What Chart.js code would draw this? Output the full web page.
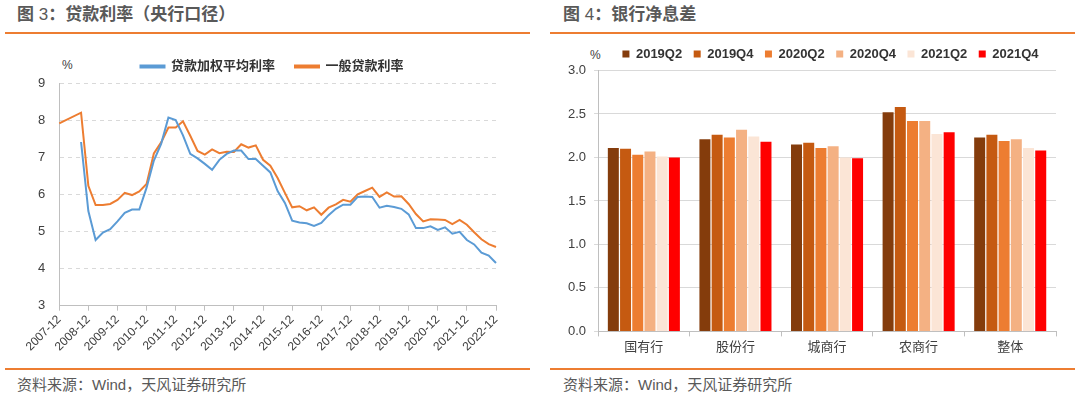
<!DOCTYPE html>
<html>
<head>
<meta charset="utf-8">
<script src="https://cdn.jsdelivr.net/npm/chart.js@4.4.0/dist/chart.umd.min.js"></script>
<style>
  body {
    margin: 0; width: 1080px; height: 398px; background: #fff;
    position: relative; overflow: hidden;
    font-family: "Liberation Sans", "Noto Sans CJK SC", sans-serif;
  }
  .title { position: absolute; top: 4px; font-size: 17px; font-weight: bold; color: #595959; line-height: 22px; white-space: nowrap; }
  .title span { font-weight: normal; }
  .rule { position: absolute; height: 2px; width: 525px; background: #ED7D31; }
  .source { position: absolute; top: 376px; font-size: 15px; color: #595959; line-height: 18px; white-space: nowrap; }
  .unit { position: absolute; font-size: 12px; color: #404040; line-height: 14px; }
  canvas { position: absolute; }
</style>
</head>
<body>
<div class="title" style="left:17px">图 <span>3</span>：贷款利率（央行口径）</div>
<div class="rule" style="left:5px; top:32px"></div>
<div class="unit" style="left:62px; top:58px">%</div>
<canvas id="rateChart" width="530" height="326" style="left:0; top:40px"></canvas>
<div class="rule" style="left:5px; top:368px"></div>
<div class="source" style="left:17px">资料来源：Wind，天风证券研究所</div>

<div class="title" style="left:563px">图 <span>4</span>：银行净息差</div>
<div class="rule" style="left:550px; top:32px"></div>
<div class="unit" style="left:590px; top:48px">%</div>
<canvas id="nimChart" width="540" height="329" style="left:540px; top:36px"></canvas>
<div class="rule" style="left:550px; top:368px"></div>
<div class="source" style="left:563px">资料来源：Wind，天风证券研究所</div>

<script>
// quarterly dates, 2007-12 .. 2022-12
const quarters = [
  '2007-12','2008-03','2008-06','2008-09','2008-12','2009-03','2009-06','2009-09','2009-12',
  '2010-03','2010-06','2010-09','2010-12','2011-03','2011-06','2011-09','2011-12',
  '2012-03','2012-06','2012-09','2012-12','2013-03','2013-06','2013-09','2013-12',
  '2014-03','2014-06','2014-09','2014-12','2015-03','2015-06','2015-09','2015-12',
  '2016-03','2016-06','2016-09','2016-12','2017-03','2017-06','2017-09','2017-12',
  '2018-03','2018-06','2018-09','2018-12','2019-03','2019-06','2019-09','2019-12',
  '2020-03','2020-06','2020-09','2020-12','2021-03','2021-06','2021-09','2021-12',
  '2022-03','2022-06','2022-09','2022-12'
];
const weightedLoanRate = [
  null, null, null, 7.41, 5.55, 4.77, 4.97, 5.06, 5.27,
  5.50, 5.59, 5.59, 6.18, 6.91, 7.36, 8.07, 8.00,
  7.59, 7.09, 6.97, 6.82, 6.66, 6.93, 7.09, 7.18,
  7.18, 6.95, 6.95, 6.77, 6.59, 6.09, 5.77, 5.29,
  5.24, 5.22, 5.15, 5.23, 5.44, 5.61, 5.72, 5.72,
  5.93, 5.94, 5.93, 5.64, 5.69, 5.66, 5.61, 5.46,
  5.09, 5.09, 5.14, 5.04, 5.11, 4.94, 4.99, 4.77,
  4.65, 4.43, 4.35, 4.15
];
const generalLoanRate = [
  7.91, null, null, 8.20, 6.23, 5.71, 5.71, 5.74, 5.85,
  6.04, 5.98, 6.08, 6.28, 7.10, 7.40, 7.80, 7.80,
  7.97, 7.58, 7.17, 7.07, 7.21, 7.11, 7.15, 7.14,
  7.35, 7.26, 7.32, 6.93, 6.77, 6.44, 6.04, 5.65,
  5.68, 5.57, 5.65, 5.45, 5.64, 5.73, 5.85, 5.80,
  6.00, 6.09, 6.18, 5.93, 6.05, 5.94, 5.95, 5.74,
  5.47, 5.27, 5.33, 5.32, 5.31, 5.20, 5.31, 5.18,
  4.98, 4.79, 4.66, 4.58
];

const bankTypes = ['国有行', '股份行', '城商行', '农商行', '整体'];
const periods = ['2019Q2', '2019Q4', '2020Q2', '2020Q4', '2021Q2', '2021Q4'];
const nim2019Q2 = [2.11, 2.21, 2.15, 2.52, 2.23];
const nim2019Q4 = [2.10, 2.26, 2.17, 2.58, 2.26];
const nim2020Q2 = [2.03, 2.23, 2.11, 2.42, 2.19];
const nim2020Q4 = [2.07, 2.32, 2.13, 2.42, 2.21];
const nim2021Q2 = [2.01, 2.24, 2.00, 2.27, 2.11];
const nim2021Q4 = [2.00, 2.18, 1.99, 2.29, 2.08];
const periodColors = ['#843C0C', '#C55A11', '#ED7D31', '#F4B183', '#FBE5D6', '#FF0000'];

Chart.defaults.font.family = '"Liberation Sans", "Noto Sans CJK SC", sans-serif';
Chart.defaults.color = '#404040';
Chart.defaults.animation = false;

// nudge the legend sideways, it is centred on the padded box otherwise
const legendShift = {
  id: 'legendShift',
  afterLayout(chart, args, opts) {
    if (chart.legend && opts.dx) {
      chart.legend.left += opts.dx;
      chart.legend.right += opts.dx;
    }
  },
};

new Chart(document.getElementById('rateChart'), {
  type: 'line',
  data: {
    labels: quarters,
    datasets: [
      {
        label: '贷款加权平均利率',
        data: weightedLoanRate,
        borderColor: '#5B9BD5',
        backgroundColor: '#5B9BD5',
        borderWidth: 2,
        pointRadius: 0,
        tension: 0,
      },
      {
        label: '一般贷款利率',
        data: generalLoanRate,
        borderColor: '#ED7D31',
        backgroundColor: '#ED7D31',
        borderWidth: 2,
        pointRadius: 0,
        tension: 0,
        spanGaps: true,
      },
    ],
  },
  plugins: [legendShift],
  options: {
    responsive: false,
    layout: { padding: { left: 24, right: 34, top: 0, bottom: 10 } },
    plugins: {
      tooltip: { enabled: false },
      legendShift: { dx: 12 },
      legend: {
        labels: {
          boxWidth: 24,
          boxHeight: 2,
          padding: 20,
          color: '#333',
          font: { size: 13, weight: 'bold' },
        },
      },
    },
    scales: {
      x: {
        grid: { drawOnChartArea: false, tickLength: 5, color: '#bfbfbf' },
        border: { color: '#bfbfbf' },
        ticks: {
          autoSkip: false,
          minRotation: 45,
          maxRotation: 45,
          padding: 2,
          font: { size: 12 },
          callback: function (value) {
            const label = this.getLabelForValue(value);
            return label.endsWith('-12') ? label : null;
          },
        },
      },
      y: {
        min: 3,
        max: 9,
        ticks: { stepSize: 1, padding: 14, font: { size: 13 } },
        grid: { drawTicks: false, color: '#d9d9d9' },
        border: { color: '#bfbfbf', dash: [4, 4] },
      },
    },
  },
});

const nimSeries = [nim2019Q2, nim2019Q4, nim2020Q2, nim2020Q4, nim2021Q2, nim2021Q4];

new Chart(document.getElementById('nimChart'), {
  type: 'bar',
  data: {
    labels: bankTypes,
    datasets: periods.map((p, i) => ({
      label: p,
      data: nimSeries[i],
      backgroundColor: periodColors[i],
      borderWidth: 0,
    })),
  },
  plugins: [legendShift],
  options: {
    responsive: false,
    layout: { padding: { left: 20, right: 24, top: 0, bottom: 7 } },
    plugins: {
      tooltip: { enabled: false },
      legendShift: { dx: -6 },
      legend: {
        align: 'end',
        labels: {
          boxWidth: 7,
          boxHeight: 7,
          padding: 11.5,
          color: '#333',
          font: { size: 13, weight: 'bold' },
        },
      },
    },
    scales: {
      x: {
        grid: { drawOnChartArea: false, tickLength: 5, color: '#bfbfbf' },
        border: { color: '#bfbfbf' },
        ticks: { padding: 3, font: { size: 13 } },
      },
      y: {
        min: 0,
        max: 3,
        ticks: {
          stepSize: 0.5,
          padding: 8,
          font: { size: 13 },
          callback: (v) => v.toFixed(1),
        },
        grid: { tickLength: 4, color: '#d9d9d9' },
        border: { color: '#bfbfbf' },
      },
    },
  },
});
</script>
</body>
</html>
